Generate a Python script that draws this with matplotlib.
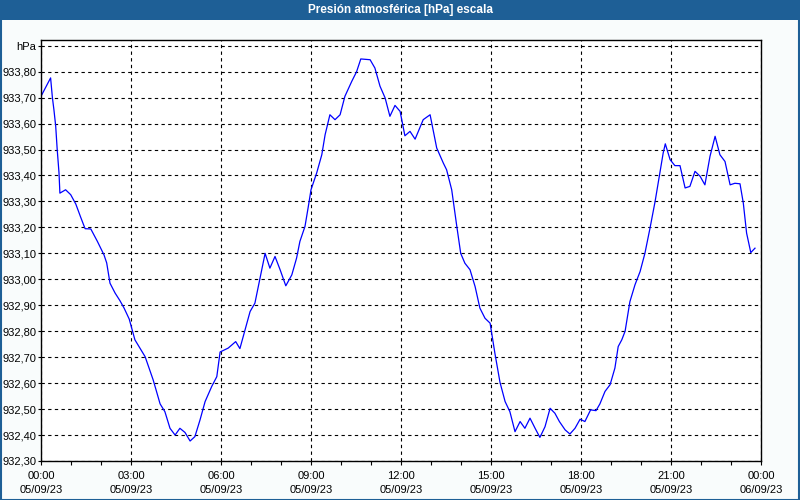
import matplotlib
matplotlib.use("Agg")
import matplotlib.pyplot as plt
from matplotlib.patches import Rectangle
from matplotlib.ticker import FixedLocator, MultipleLocator

title = "Presión atmosférica [hPa] escala"

hours = [0.0, 0.32, 0.38, 0.43, 0.49, 0.54, 0.6, 0.63, 0.82, 0.99, 1.16, 1.32, 1.47, 1.66, 1.88,
         2.1, 2.19, 2.3, 2.47, 2.63, 2.77, 2.94, 3.13, 3.47, 3.74, 3.97, 4.13, 4.3, 4.47, 4.63,
         4.8, 4.97, 5.13, 5.3, 5.47, 5.69, 5.86, 5.97, 6.24, 6.49, 6.63, 6.8, 6.97, 7.13, 7.3,
         7.47, 7.63, 7.8, 7.97, 8.16, 8.36, 8.52, 8.63, 8.8, 8.91, 9.0, 9.19, 9.36, 9.47, 9.63,
         9.8, 9.97, 10.13, 10.36, 10.52, 10.66, 10.97, 11.13, 11.3, 11.47, 11.63, 11.8, 11.97,
         12.13, 12.3, 12.47, 12.74, 12.97, 13.19, 13.41, 13.52, 13.69, 13.86, 13.99, 14.13,
         14.3, 14.47, 14.63, 14.8, 14.97, 15.13, 15.3, 15.47, 15.63, 15.8, 15.97, 16.13, 16.3,
         16.47, 16.63, 16.8, 16.97, 17.13, 17.28, 17.47, 17.63, 17.8, 17.97, 18.13, 18.32,
         18.5, 18.63, 18.8, 18.97, 19.13, 19.24, 19.36, 19.47, 19.63, 19.8, 19.97, 20.13, 20.3,
         20.47, 20.63, 20.74, 20.81, 20.97, 21.13, 21.3, 21.47, 21.63, 21.8, 21.97, 22.13, 22.3,
         22.47, 22.63, 22.8, 22.97, 23.13, 23.3, 23.41, 23.52, 23.66, 23.8]
pressure = [933.705, 933.776, 933.70, 933.654, 933.59, 933.50, 933.41, 933.332, 933.345, 933.326,
            933.29, 933.24, 933.195, 933.194, 933.146, 933.094, 933.063, 932.985, 932.947,
            932.918, 932.889, 932.847, 932.767, 932.702, 932.612, 932.52, 932.49, 932.426,
            932.40, 932.426, 932.41, 932.377, 932.394, 932.458, 932.529, 932.587, 932.625,
            932.72, 932.735, 932.76, 932.733, 932.805, 932.876, 932.908, 933.005, 933.10,
            933.043, 933.088, 933.037, 932.975, 933.017, 933.082, 933.146, 933.204, 933.28,
            933.345, 933.41, 933.48, 933.557, 933.634, 933.615, 933.634, 933.705, 933.763,
            933.80, 933.849, 933.846, 933.814, 933.744, 933.699, 933.628, 933.67, 933.647,
            933.553, 933.57, 933.54, 933.615, 933.634, 933.506, 933.448, 933.422, 933.345,
            933.204, 933.10, 933.062, 933.037, 932.972, 932.889, 932.85, 932.831, 932.715,
            932.603, 932.529, 932.49, 932.413, 932.452, 932.426, 932.465, 932.426, 932.391,
            932.432, 932.503, 932.484, 932.452, 932.42, 932.404, 932.426, 932.461, 932.452,
            932.497, 932.494, 932.52, 932.568, 932.594, 932.658, 932.741, 932.767, 932.80,
            932.914, 932.979, 933.03, 933.10, 933.197, 933.30, 933.41, 933.487, 933.522,
            933.461, 933.438, 933.438, 933.352, 933.358, 933.416, 933.397, 933.364, 933.474,
            933.551, 933.48, 933.454, 933.364, 933.37, 933.368, 933.294, 933.178, 933.103,
            933.12]

x_major = [0, 3, 6, 9, 12, 15, 18, 21, 24]
x_labels = ["00:00\n05/09/23", "03:00\n05/09/23", "06:00\n05/09/23", "09:00\n05/09/23",
            "12:00\n05/09/23", "15:00\n05/09/23", "18:00\n05/09/23", "21:00\n05/09/23",
            "00:00\n06/09/23"]
y_ticks = [932.30, 932.40, 932.50, 932.60, 932.70, 932.80, 932.90, 933.00, 933.10, 933.20,
           933.30, 933.40, 933.50, 933.60, 933.70, 933.80, 933.90]
y_labels = ["932,30", "932,40", "932,50", "932,60", "932,70", "932,80", "932,90", "933,00",
            "933,10", "933,20", "933,30", "933,40", "933,50", "933,60", "933,70", "933,80", "hPa"]

plt.rcParams['font.family'] = ['Liberation Sans', 'DejaVu Sans']
fig = plt.figure(figsize=(8, 5), dpi=100, facecolor="#f9fcfc")

# title bar and border
fig.patches.append(Rectangle((0, 0.96), 1, 0.04, transform=fig.transFigure,
                             facecolor="#1e5f96", edgecolor="none", zorder=0))
fig.patches.append(Rectangle((0.001, 0.001), 0.998, 0.998, transform=fig.transFigure,
                             facecolor="none", edgecolor="#1e5f96", linewidth=1.5, zorder=1))
fig.text(0.5, 0.980, title, color="white", fontsize=8.5, fontweight="bold",
         ha="center", va="center")

ax = fig.add_axes([41 / 800, 39 / 500, 720 / 800, 421 / 500])
ax.set_facecolor("white")
ax.plot(hours, pressure, color="#0000ff", linewidth=0.9, zorder=3)

ax.set_xlim(0, 24)
ax.set_ylim(932.30, 933.922)
ax.xaxis.set_major_locator(FixedLocator(x_major))
ax.set_xticklabels(x_labels, fontsize=8, linespacing=1.5)
ax.xaxis.set_minor_locator(MultipleLocator(1))
ax.yaxis.set_major_locator(FixedLocator(y_ticks))
ax.set_yticklabels(y_labels, fontsize=8)

ax.tick_params(axis="x", which="both", direction="out", length=3, width=0.8, color="black", pad=4)
ax.tick_params(axis="y", which="major", direction="out", length=2, width=0.8, color="black", pad=1.5)

ax.grid(True, which="major", color="black", linestyle=(0, (3, 3)), linewidth=0.8)
for s in ax.spines.values():
    s.set_color("black")
    s.set_linewidth(1.0)
    s.set_zorder(4)

fig.savefig("out.png", dpi=100, facecolor=fig.get_facecolor())
